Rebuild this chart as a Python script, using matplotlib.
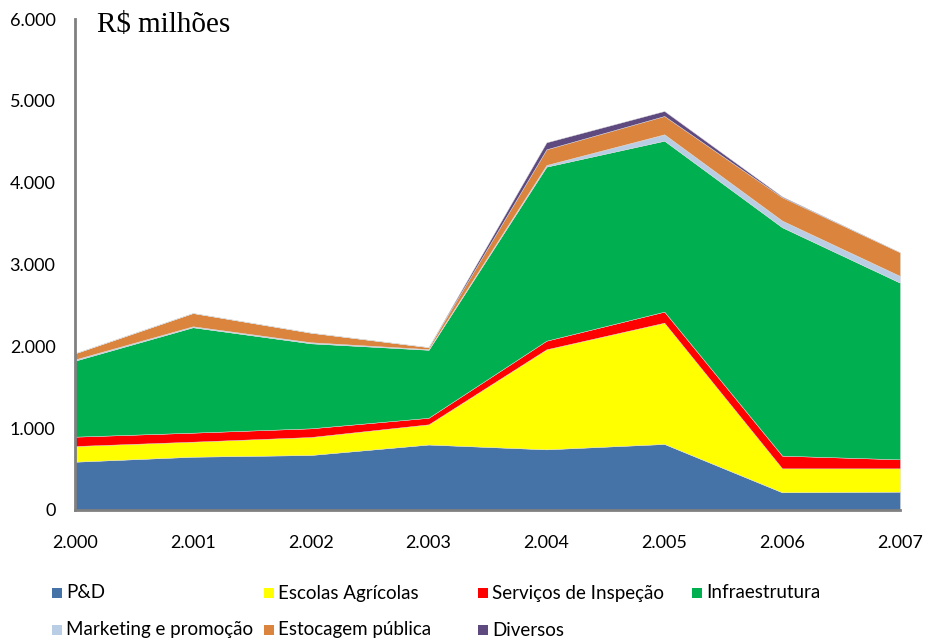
import matplotlib
matplotlib.use("Agg")
import matplotlib.pyplot as plt
from matplotlib.patches import Rectangle
from matplotlib.ticker import FuncFormatter

years = [2000, 2001, 2002, 2003, 2004, 2005, 2006, 2007]
year_labels = ["2.000", "2.001", "2.002", "2.003", "2.004", "2.005", "2.006", "2.007"]

pd_vals = [590, 651, 672, 800, 741, 807, 216, 224]
escolas = [192, 184, 220, 247, 1223, 1482, 293, 285]
servicos = [114, 110, 106, 80, 105, 135, 155, 110]
infra = [929, 1288, 1039, 831, 2127, 2089, 2791, 2159]
marketing = [15, 12, 13, 8, 20, 78, 81, 82]
estocagem = [75, 162, 117, 24, 192, 224, 285, 289]
diversos = [0, 0, 0, 0, 85, 61, 10, 0]

series_names = ["P&D", "Escolas Agrícolas", "Serviços de Inspeção", "Infraestrutura",
                "Marketing e promoção", "Estocagem pública", "Diversos"]
colors = ["#4572A7", "#FFFF00", "#FF0000", "#00B050", "#B9CDE5", "#DB843D", "#5F4A80"]

yticks = [0, 1000, 2000, 3000, 4000, 5000, 6000]

tick_font = ["Liberation Sans Narrow", "Lato", "DejaVu Sans"]

fig = plt.figure(figsize=(9.25, 6.42), dpi=100)
ax = fig.add_axes([75/925, 1 - 510/642, (900 - 75)/925, (510 - 19)/642])

ax.stackplot(years, pd_vals, escolas, servicos, infra, marketing, estocagem, diversos,
             colors=colors, linewidth=0.3, edgecolor="#dddddd")

ax.set_xlim(2000, 2007)
ax.set_ylim(0, 6000)
ax.set_xticks(years)
ax.set_xticklabels(year_labels)
ax.set_yticks(yticks)
ax.yaxis.set_major_formatter(FuncFormatter(lambda v, p: f"{int(v):,}".replace(",", ".")))
ax.tick_params(length=0, labelsize=13)
ax.tick_params(axis="y", pad=14)
ax.tick_params(axis="x", pad=18)
for lab in ax.get_xticklabels() + ax.get_yticklabels():
    lab.set_family(tick_font)

for s in ["top", "right"]:
    ax.spines[s].set_visible(False)
for s in ["left", "bottom"]:
    ax.spines[s].set_color("#808080")
    ax.spines[s].set_linewidth(2)

fig.text(97/925, 1 - 25/642, "R$ milhões", family=["Liberation Serif", "DejaVu Serif"],
         fontsize=21, va="center", ha="left")

# legend (equal column widths, like the original)
col_x = [52, 264, 478, 692]
row_y = [593, 630]
for i, (name, c) in enumerate(zip(series_names, colors)):
    col, row = i % 4, i // 4
    x0 = col_x[col]
    y0 = row_y[row]
    fig.patches.append(Rectangle((x0/925, 1 - (y0 + 5)/642), 10/925, 10/642,
                                 transform=fig.transFigure, facecolor=c, edgecolor="none"))
    fig.text((x0 + 14)/925, 1 - y0/642, name, family=tick_font, fontsize=13.5,
             va="center", ha="left")

fig.savefig("out.png", dpi=100)
